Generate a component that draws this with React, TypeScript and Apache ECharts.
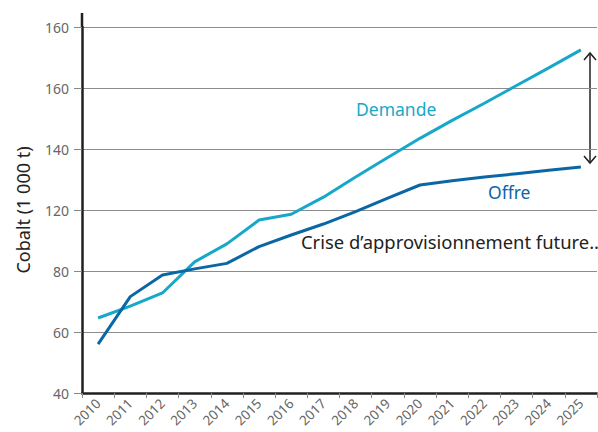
import React, { useEffect, useRef } from "react";
import * as echarts from "echarts";

const years = ["2010","2011","2012","2013","2014","2015","2016","2017","2018","2019","2020","2021","2022","2023","2024","2025"];
const demande = [64.6, 68.5, 72.8, 83.0, 88.9, 96.7, 98.6, 104.2, 110.8, 117.2, 123.5, 129.4, 135.0, 140.8, 146.6, 152.5];
const offre = [56.0, 71.6, 78.7, 80.7, 82.5, 88.0, 91.8, 95.4, 99.5, 103.9, 108.2, 109.6, 110.8, 111.9, 113.0, 114.1];
const yTickValues = [40, 60, 80, 100, 120, 140, 160];
const yTickLabels = ["40", "60", "80", "120", "140", "160", "160"];

const FONT = "'Noto Sans', 'Open Sans', sans-serif";

export default function App() {
  const ref = useRef<HTMLDivElement>(null);
  useEffect(() => {
    if (!ref.current) return;
    const chart = echarts.init(ref.current, null, { renderer: "svg" });
    chart.setOption({
      animation: false,
      grid: { left: 82, right: 1, top: 27, bottom: 39, containLabel: false },
      xAxis: {
        type: "category",
        data: years,
        boundaryGap: true,
        axisLine: { show: true, lineStyle: { color: "#231f20", width: 2.5 } },
        axisTick: { show: true, length: 5, lineStyle: { color: "#888", width: 1 } },
        axisLabel: { rotate: 45, color: "#666", fontSize: 13.5, fontFamily: FONT, margin: 8, interval: 0 },
        splitLine: { show: false },
      },
      yAxis: {
        type: "value",
        min: 40,
        max: 160,
        interval: 20,
        name: "Cobalt (1 000 t)",
        nameLocation: "middle",
        nameGap: 50,
        nameTextStyle: { color: "#222", fontSize: 18, fontFamily: FONT },
        axisLine: { show: true, lineStyle: { color: "#231f20", width: 2.5 } },
        axisTick: { show: true, length: 8, lineStyle: { color: "#888", width: 1 } },
        axisLabel: {
          color: "#666",
          fontSize: 14,
          fontFamily: FONT,
          margin: 13,
          formatter: (v: number) => {
            const i = yTickValues.indexOf(v);
            return i >= 0 ? yTickLabels[i] : "";
          },
        },
        splitLine: { show: true, lineStyle: { color: "#8c8c8c", width: 1 } },
      },
      series: [
        {
          name: "Demande",
          type: "line",
          data: demande,
          symbol: "none",
          lineStyle: { color: "#17a8c9", width: 3 },
          z: 3,
        },
        {
          name: "Offre",
          type: "line",
          data: offre,
          symbol: "none",
          lineStyle: { color: "#0b66a4", width: 3 },
          z: 4,
        },
      ],
      graphic: [
        { type: "line", shape: { x1: 82, y1: 13, x2: 82, y2: 28 }, style: { stroke: "#231f20", lineWidth: 2.5 } },
        { type: "text", left: 356, top: 100, style: { text: "Demande", fill: "#17a8c9", fontSize: 17.5, fontFamily: FONT } },
        { type: "text", left: 488, top: 183, style: { text: "Offre", fill: "#0b66a4", fontSize: 17.5, fontFamily: FONT } },
        { type: "text", left: 301, top: 232, style: { text: "Crise d\u2019approvisionnement future..", fill: "#222", fontSize: 18.4, fontFamily: FONT } },
        { type: "line", shape: { x1: 590, y1: 53, x2: 590, y2: 163 }, style: { stroke: "#231f20", lineWidth: 1.5 } },
        { type: "polyline", shape: { points: [[584, 60], [590, 53], [596, 60]] }, style: { stroke: "#231f20", lineWidth: 1.5, fill: "none" } },
        { type: "polyline", shape: { points: [[584, 156], [590, 163], [596, 156]] }, style: { stroke: "#231f20", lineWidth: 1.5, fill: "none" } },
      ],
    });
    return () => chart.dispose();
  }, []);
  return <div ref={ref} style={{ width: 598, height: 432, position: "absolute", left: 0, top: 0 }} />;
}
